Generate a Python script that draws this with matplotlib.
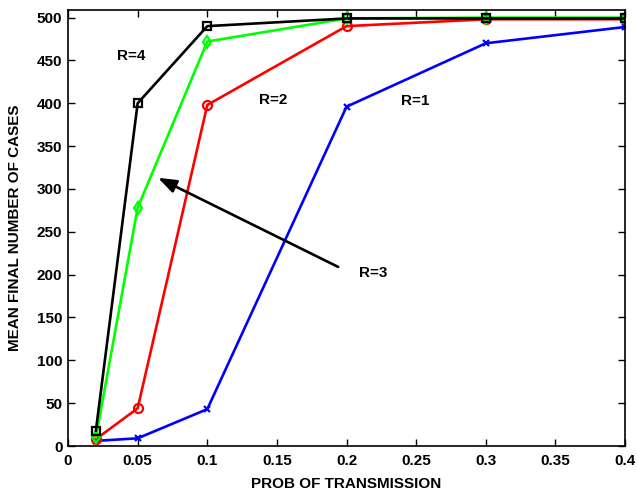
import matplotlib
matplotlib.use("Agg")
import matplotlib.pyplot as plt

plt.rcParams['font.family'] = ['Liberation Sans', 'DejaVu Sans']
plt.rcParams['font.weight'] = 'bold'

prob = [0.02, 0.05, 0.1, 0.2, 0.3, 0.4]
r1 = [6, 9, 43, 396, 470, 489]
r2 = [8, 44, 398, 490, 498, 498]
r3 = [10, 278, 472, 499, 500, 500]
r4 = [18, 400, 490, 499, 499, 499]

xticks = [0, 0.05, 0.1, 0.15, 0.2, 0.25, 0.3, 0.35, 0.4]
xticklabels = ['0', '0.05', '0.1', '0.15', '0.2', '0.25', '0.3', '0.35', '0.4']
yticks = [0, 50, 100, 150, 200, 250, 300, 350, 400, 450, 500]

fig = plt.figure(figsize=(6.37, 4.93), dpi=100)
ax = fig.add_axes([0.1068, 0.0953, 0.8744, 0.8847])

lw = 1.9
ax.plot(prob, r1, color='#0000ff', lw=lw, marker='x', ms=5, mew=1.6)
ax.plot(prob, r2, color='#ff0000', lw=lw, marker='o', ms=6.5, mfc='none', mew=1.6)
ax.plot(prob, r3, color='#00ff00', lw=lw, marker='d', ms=6.5, mfc='none', mew=1.6)
ax.plot(prob, r4, color='#000000', lw=lw, marker='s', ms=5.5, mfc='none', mew=1.6)

ax.set_xlim(0, 0.4)
ax.set_ylim(0, 509)
ax.set_xticks(xticks)
ax.set_xticklabels(xticklabels)
ax.set_yticks(yticks)
ax.tick_params(direction='in', top=True, right=True, labelsize=11, length=5, width=1)
ax.tick_params(axis='x', pad=6)
ax.tick_params(axis='y', pad=4)
for lab in ax.get_xticklabels() + ax.get_yticklabels():
    lab.set_fontweight('bold')
for s in ax.spines.values():
    s.set_linewidth(1.2)

ax.set_xlabel('PROB OF TRANSMISSION', fontsize=11, fontweight='bold', labelpad=6)
ax.set_ylabel('MEAN FINAL NUMBER OF CASES', fontsize=11, fontweight='bold', labelpad=11)

txt = dict(fontsize=11, fontweight='bold', ha='center', va='center')
ax.text(0.045, 455, 'R=4', **txt)
ax.text(0.147, 404, 'R=2', **txt)
ax.text(0.249, 403, 'R=1', **txt)
ax.text(0.219, 202, 'R=3', **txt)

ax.annotate('', xy=(0.0646, 313), xytext=(0.194, 209),
            arrowprops=dict(arrowstyle='-|>,head_length=0.55,head_width=0.2',
                            color='black', lw=1.9,
                            mutation_scale=20, shrinkA=0, shrinkB=0))

fig.savefig('out.png', dpi=100)
